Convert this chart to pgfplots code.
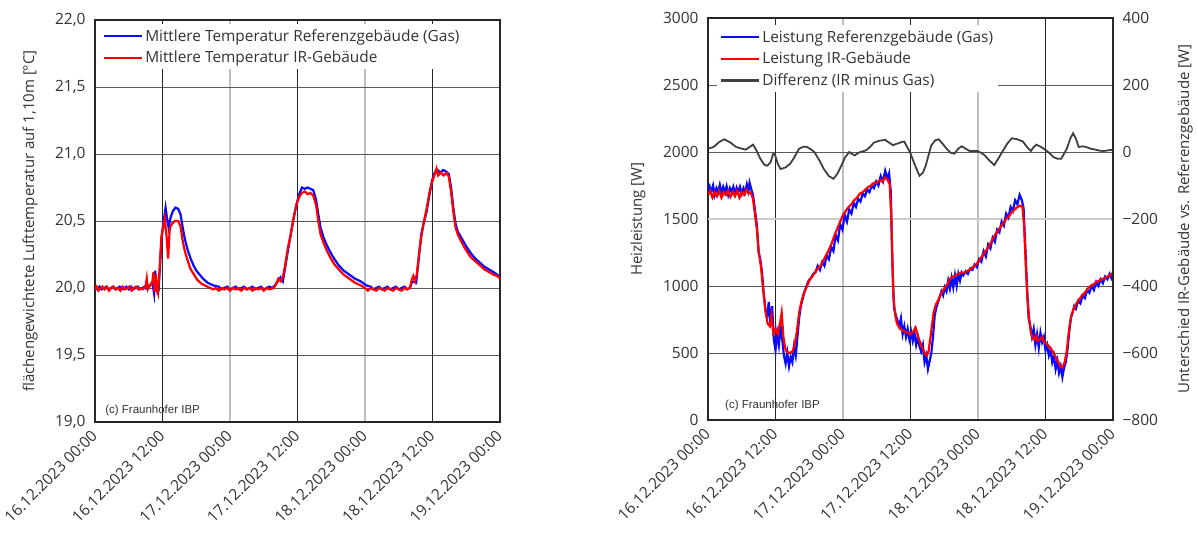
\documentclass[border=0pt]{standalone}
\usepackage{pgfplots}
\usepackage{pgfplotstable}
\pgfplotsset{compat=1.18}
\usepackage{fontspec}
\setmainfont{Open Sans}
\newfontfamily\cfont{Liberation Sans}

\definecolor{cblue}{RGB}{10,10,255}
\definecolor{cred}{RGB}{255,0,0}
\definecolor{cdiff}{RGB}{64,64,64}

\pgfplotstableread{
t T
0 20.00
0.4 19.99
0.8 20.01
1.2 19.99
1.6 20.00
2.0 20.01
2.4 19.99
2.8 20.00
3.2 20.01
3.6 19.99
4.0 20.00
4.4 20.01
4.8 19.99
5.2 20.00
5.6 20.01
6.0 19.99
6.4 20.01
6.8 19.99
7.2 20.00
7.6 20.01
8.0 19.99
8.4 20.00
8.8 20.01
9.0 20.00
9.2 20.05
9.4 20.00
9.8 20.02
10.2 20.04
10.5 19.96
10.7 20.13
10.9 20.02
11.1 19.97
11.3 19.98
11.6 20.20
11.9 20.40
12.2 20.50
12.55 20.60
12.8 20.52
13.1 20.45
13.4 20.52
13.8 20.57
14.3 20.60
14.8 20.59
15.2 20.55
15.6 20.45
16.0 20.36
16.5 20.28
17.0 20.22
17.5 20.17
18.0 20.13
18.6 20.10
19.2 20.07
20.0 20.04
21.0 20.02
22.0 20.01
22.5 19.99
23.0 20.00
23.5 20.01
24.0 19.99
24.5 20.00
25.0 20.01
25.5 19.99
26.0 20.00
26.5 20.01
27.0 19.99
27.5 20.00
28.0 20.01
28.5 19.99
29.0 20.00
29.5 20.01
30.0 19.99
30.5 20.00
31.0 20.01
31.5 20.00
32.0 20.02
32.5 20.05
33.0 20.08
33.4 20.05
33.8 20.15
34.3 20.28
34.8 20.40
35.3 20.52
35.8 20.62
36.3 20.70
36.8 20.75
37.3 20.74
37.8 20.75
38.3 20.74
38.8 20.73
39.3 20.66
39.7 20.55
40.1 20.45
40.6 20.38
41.2 20.32
41.8 20.27
42.5 20.22
43.3 20.17
44.2 20.13
45.2 20.10
46.2 20.07
47.2 20.05
48.2 20.02
49.0 20.01
49.5 19.99
50.0 20.00
50.5 20.01
51.0 19.99
51.5 20.00
52.0 20.01
52.5 19.99
53.0 20.00
53.5 20.01
54.0 19.99
54.5 20.00
55.0 20.01
55.5 19.99
56.0 20.00
56.3 20.04
56.8 20.05
57.1 20.04
57.5 20.20
58.0 20.40
58.4 20.48
58.9 20.56
59.4 20.68
59.9 20.80
60.4 20.86
60.9 20.88
61.4 20.86
61.9 20.88
62.4 20.87
62.9 20.85
63.3 20.75
63.7 20.60
64.1 20.48
64.5 20.42
65.2 20.37
66.0 20.31
66.8 20.26
67.6 20.22
68.4 20.19
69.2 20.16
70.0 20.14
70.8 20.12
71.5 20.10
72.0 20.08
}\tempgas

\pgfplotstableread{
t T
0 19.99
0.3 20.01
0.6 19.98
1.0 20.00
1.3 20.01
1.7 19.99
2.1 20.01
2.5 19.98
2.9 20.00
3.3 20.01
3.7 19.99
4.1 20.00
4.5 19.98
4.9 20.01
5.3 19.99
5.7 20.00
6.1 20.01
6.5 19.98
6.9 20.00
7.3 20.01
7.7 19.99
8.1 20.00
8.5 19.99
9.0 20.01
9.2 20.07
9.4 19.99
9.8 20.02
10.2 20.05
10.4 20.12
10.6 19.97
10.8 20.10
11.0 19.99
11.2 19.96
11.5 20.15
11.8 20.38
12.1 20.45
12.4 20.52
12.7 20.40
13.0 20.22
13.3 20.45
13.7 20.48
14.2 20.50
14.8 20.50
15.2 20.46
15.6 20.35
16.0 20.27
16.5 20.20
17.0 20.14
17.6 20.10
18.2 20.06
19.0 20.03
20.0 20.01
21.0 19.99
21.5 20.00
22.0 19.98
22.5 20.00
23.0 19.99
23.5 20.00
24.0 19.98
24.5 20.00
25.0 19.99
25.5 20.00
26.0 19.98
26.5 20.00
27.0 19.99
27.5 20.00
28.0 19.98
28.5 20.00
29.0 19.99
29.5 20.00
30.0 19.98
30.5 20.00
31.0 19.99
31.8 20.00
32.2 20.03
32.6 20.07
33.0 20.05
33.4 20.08
33.8 20.17
34.3 20.30
34.8 20.40
35.3 20.52
35.8 20.62
36.3 20.68
36.8 20.71
37.3 20.72
37.8 20.70
38.3 20.71
38.8 20.69
39.3 20.62
39.7 20.50
40.1 20.40
40.6 20.34
41.2 20.28
41.8 20.23
42.5 20.18
43.3 20.14
44.2 20.10
45.2 20.07
46.2 20.04
47.2 20.02
48.0 20.00
48.5 19.98
49.0 20.00
49.5 19.99
50.0 19.98
50.5 20.00
51.0 19.99
51.5 19.98
52.0 20.00
52.5 19.99
53.0 19.98
53.5 20.00
54.0 19.99
54.5 19.98
55.0 20.00
55.5 19.99
56.0 20.00
56.3 20.06
56.6 20.09
56.9 20.05
57.2 20.10
57.6 20.25
58.0 20.38
58.5 20.50
59.0 20.60
59.5 20.72
60.0 20.80
60.4 20.85
60.7 20.89
61.0 20.84
61.5 20.86
62.0 20.84
62.5 20.86
62.9 20.83
63.3 20.72
63.7 20.57
64.1 20.45
64.5 20.40
65.2 20.34
66.0 20.28
66.8 20.23
67.6 20.20
68.4 20.17
69.2 20.14
70.0 20.12
70.8 20.10
71.5 20.09
72.0 20.07
}\tempir

\pgfplotstableread{
t P
0 1690
0.3 1740
0.6 1700
0.9 1750
1.2 1680
1.5 1730
1.8 1700
2.1 1755
2.4 1690
2.7 1740
3.0 1700
3.3 1745
3.6 1680
3.9 1730
4.2 1700
4.5 1740
4.8 1690
5.1 1735
5.4 1700
5.7 1740
6.0 1690
6.3 1730
6.6 1700
6.9 1760
7.2 1710
7.4 1770
7.7 1720
8.0 1680
8.4 1550
8.7 1450
9.0 1250
9.3 1200
9.6 1100
9.9 950
10.2 820
10.5 760
10.8 880
11.1 720
11.4 850
11.7 600
12.0 520
12.3 650
12.6 560
12.9 700
13.2 600
13.5 480
13.8 420
14.1 500
14.4 400
14.7 470
15.0 430
15.3 550
15.6 480
15.9 620
16.2 760
16.5 850
16.8 900
17.1 950
17.5 1000
17.9 1040
18.3 1060
18.7 1090
19.1 1100
19.5 1150
19.9 1120
20.3 1180
20.7 1150
21.1 1230
21.5 1200
21.9 1290
22.3 1260
22.7 1380
23.1 1340
23.5 1460
23.9 1420
24.3 1530
24.7 1480
25.1 1570
25.5 1540
25.9 1620
26.3 1590
26.7 1650
27.1 1630
27.5 1690
27.9 1670
28.3 1720
28.7 1700
29.1 1750
29.5 1730
29.9 1780
30.3 1750
30.7 1820
31.1 1780
31.5 1860
31.9 1800
32.2 1840
32.5 1700
32.7 1300
32.9 1000
33.1 830
33.4 780
33.7 740
34.0 700
34.3 760
34.6 640
34.9 700
35.2 620
35.5 680
35.8 600
36.1 660
36.4 590
36.7 650
37.0 560
37.3 620
37.6 550
37.9 510
38.2 560
38.5 430
38.8 480
39.1 380
39.4 440
39.7 500
40.0 620
40.3 780
40.6 840
40.9 880
41.2 920
41.5 960
41.8 930
42.1 990
42.4 960
42.7 1040
43.0 980
43.3 1060
43.6 990
43.9 1080
44.2 1000
44.5 1090
44.8 1040
45.1 1100
45.4 1080
45.8 1110
46.2 1090
46.6 1130
47.0 1120
47.4 1160
47.8 1140
48.2 1200
48.6 1180
49.0 1260
49.4 1220
49.8 1310
50.2 1280
50.6 1360
51.0 1330
51.4 1420
51.8 1400
52.2 1480
52.6 1450
53.0 1540
53.4 1510
53.8 1590
54.2 1560
54.6 1640
55.0 1610
55.4 1680
55.8 1640
56.1 1580
56.4 1300
56.7 1000
57.0 760
57.3 700
57.6 620
57.9 680
58.2 560
58.5 640
58.8 540
59.1 650
59.4 580
59.7 620
60.0 520
60.3 560
60.6 480
60.9 520
61.2 430
61.5 480
61.8 380
62.1 440
62.4 350
62.7 400
63.0 320
63.3 390
63.6 430
63.9 520
64.2 650
64.5 760
64.8 800
65.1 850
65.4 830
65.8 890
66.2 870
66.6 930
67.0 910
67.4 970
67.8 950
68.2 1000
68.6 970
69.0 1030
69.4 1000
69.8 1050
70.2 1020
70.6 1070
71.0 1050
71.4 1090
71.7 1060
72.0 1100
}\powgas

\pgfplotstableread{
t P
0 1680
0.4 1710
0.8 1660
1.2 1700
1.6 1670
2.0 1710
2.4 1660
2.8 1700
3.2 1680
3.6 1710
4.0 1665
4.4 1700
4.8 1670
5.2 1710
5.6 1660
6.0 1700
6.4 1680
6.8 1720
7.2 1690
7.6 1700
8.0 1650
8.4 1520
8.7 1420
9.0 1260
9.4 1150
9.8 980
10.2 820
10.6 720
11.0 700
11.3 780
11.6 650
12.0 680
12.4 640
12.8 720
13.1 800
13.4 620
13.7 540
14.0 510
14.5 500
15.0 510
15.4 560
15.8 660
16.2 800
16.6 880
17.0 940
17.5 990
18.0 1040
18.5 1070
19.0 1100
19.5 1130
20.0 1150
20.5 1190
21.0 1230
21.5 1270
22.0 1320
22.5 1380
23.0 1430
23.5 1480
24.0 1530
24.5 1560
25.0 1590
25.5 1610
26.0 1640
26.5 1660
27.0 1690
27.5 1700
28.0 1720
28.5 1740
29.0 1750
29.5 1770
30.0 1770
30.5 1790
31.0 1780
31.5 1810
32.0 1790
32.3 1760
32.6 1500
32.8 1150
33.0 900
33.3 780
33.6 720
34.0 690
34.5 670
35.0 660
35.5 650
36.0 640
36.5 660
36.9 690
37.3 630
37.7 580
38.1 540
38.5 500
38.9 480
39.2 510
39.5 600
39.8 700
40.1 800
40.5 860
41.0 900
41.5 950
42.0 980
42.5 1010
43.0 1050
43.5 1070
44.0 1080
44.5 1090
45.0 1100
45.5 1100
46.0 1110
46.5 1120
47.0 1140
47.5 1150
48.0 1180
48.5 1210
49.0 1240
49.5 1270
50.0 1300
50.5 1340
51.0 1380
51.5 1410
52.0 1440
52.5 1470
53.0 1500
53.5 1520
54.0 1550
54.5 1570
55.0 1590
55.5 1600
55.9 1590
56.2 1450
56.5 1150
56.8 900
57.1 760
57.4 650
57.7 610
58.0 600
58.3 630
58.6 590
59.0 600
59.4 620
59.8 580
60.2 570
60.6 550
61.0 530
61.4 500
61.8 470
62.2 440
62.6 400
63.0 390
63.4 430
63.8 520
64.2 680
64.6 780
65.0 830
65.5 870
66.0 900
66.5 930
67.0 950
67.5 980
68.0 1000
68.5 1010
69.0 1030
69.5 1040
70.0 1050
70.5 1060
71.0 1070
71.5 1080
72.0 1100
}\powir

\pgfplotstableread{
t D
0 10
1 15
2 30
2.9 38
4 28
5 15
6 10
6.7 7
7.4 15
8.0 22
8.6 5
9.3 -20
10.0 -38
10.5 -41
11.1 -31
11.6 -5
11.9 -8
12.4 -35
12.9 -51
13.8 -46
14.6 -35
15.2 -20
16.2 10
17.0 16
17.6 15
18.3 8
18.9 0
19.8 -25
20.6 -51
21.5 -72
22.3 -80
23.0 -65
23.7 -41
24.4 -15
25.1 0
25.6 -6
26.1 -10
26.6 -4
27.1 0
28.1 5
28.8 15
29.5 28
30.5 34
31.5 36
32.2 28
32.9 20
33.4 24
33.9 26
34.4 30
34.9 31
35.4 15
35.9 0
36.8 -40
37.6 -71
38.2 -62
38.7 -41
39.2 -10
39.7 20
40.4 35
41.0 38
41.7 25
42.4 10
43.1 -2
43.8 -5
44.5 10
45.1 17
45.8 10
46.5 3
47.2 3
47.9 3
48.6 -3
49.2 -10
50.0 -25
50.9 -39
51.6 -20
52.3 0
53.2 25
54.0 41
55.0 38
56.0 31
56.7 15
57.4 3
57.9 15
58.4 22
59.2 15
60.1 5
60.8 -5
61.4 -15
62.1 -20
62.8 -20
63.3 -5
63.8 10
64.4 40
64.9 56
65.4 40
65.9 15
66.6 17
67.2 15
68.0 10
68.9 7
69.6 4
70.3 3
71.2 5
72.0 7
}\powdiff

\pgfplotsset{
  basestyle/.style={
    scale only axis, width=405pt, height=402pt,
    xmin=0, xmax=72,
    major tick length=0pt,
    axis line style={line width=1.6pt, black!85},
    tick label style={font=\fontsize{15.5}{17}\selectfont, text=black!80},
    label style={font=\fontsize{15}{17}\selectfont, text=black!80},
    xtick={0,24,48,72},
    xticklabels={16.12.2023 00:00,17.12.2023 00:00,18.12.2023 00:00,19.12.2023 00:00},
    extra x ticks={12,36,60},
    extra x tick labels={16.12.2023 12:00,17.12.2023 12:00,18.12.2023 12:00},
    extra x tick style={grid=major, major grid style={black!85, line width=0.7pt}, x grid style={black!85, line width=0.7pt}},
    xticklabel style={rotate=45, anchor=east, inner sep=1pt},
    xticklabel shift=10pt,
    yticklabel style={xshift=-6pt},
    xmajorgrids, ymajorgrids,
    x grid style={gray!50, line width=1.3pt},
    y grid style={black!65, line width=0.9pt},
    legend style={draw=none, fill=white, anchor=north west,
      font=\fontsize{15.4}{17}\selectfont, text=black!80,
      cells={anchor=west}, row sep=4.5pt, inner xsep=3pt, inner ysep=3pt},
    legend image code/.code={\draw[#1] (0pt,0pt) -- (38pt,0pt);},
  }
}

\begin{document}
\begin{tikzpicture}
\useasboundingbox (0,0) rectangle (1197pt,539pt);

% ---------- left chart ----------
\begin{axis}[basestyle,
  at={(95pt,117pt)}, anchor=south west,
  ymin=19, ymax=22,
  ytick={19,19.5,20,20.5,21,21.5,22},
  yticklabels={{19,0},{19,5},{20,0},{20,5},{21,0},{21,5},{22,0}},
  ylabel={flächengewichtete Lufttemperatur auf 1,10m [°C]},
  ylabel style={at={(axis description cs:-0.16,0.5)}, anchor=center},
  legend style={at={(0.012,0.99)}},
]
\addplot[cblue, line width=2.2pt] table[x=t, y=T] {\tempgas};
\addlegendentry{Mittlere Temperatur Referenzgebäude (Gas)}
\addplot[cred, line width=2.2pt] table[x=t, y=T] {\tempir};
\addlegendentry{Mittlere Temperatur IR-Gebäude}
\node[anchor=south west, font=\cfont\fontsize{11.5}{12}\selectfont, text=black!80, inner sep=0pt]
  at (rel axis cs:0.025,0.015) {(c) Fraunhofer IBP};
\end{axis}

% ---------- right chart ----------
\begin{axis}[basestyle,
  at={(708pt,119pt)}, anchor=south west,
  ymin=0, ymax=3000,
  ytick={0,500,1000,2000,2500,3000},
  yticklabels={0,500,1000,2000,2500,3000},
  extra y ticks={1500},
  extra y tick labels={1500},
  extra y tick style={grid=major, major grid style={gray!40, line width=1.3pt}, y grid style={gray!40, line width=1.3pt}},
  ylabel={Heizleistung [W]},
  ylabel style={at={(axis description cs:-0.173,0.5)}, anchor=center},
]
\addplot[cblue, line width=2.2pt] table[x=t, y=P] {\powgas};
\addplot[cred, line width=2.2pt] table[x=t, y=P] {\powir};
\node[anchor=south west, font=\cfont\fontsize{11.5}{12}\selectfont, text=black!80, inner sep=0pt]
  at (rel axis cs:0.042,0.022) {(c) Fraunhofer IBP};
\end{axis}

\begin{axis}[
  scale only axis, width=405pt, height=402pt,
  at={(708pt,119pt)}, anchor=south west,
  xmin=0, xmax=72, ymin=-800, ymax=400,
  hide x axis, axis y line*=right,
  axis line style={line width=1.6pt, black!85},
  major tick length=0pt,
  ytick={-800,-600,-400,-200,0,200,400},
  yticklabels={−800,−600,−400,−200,0,200,400},
  yticklabel style={xshift=6pt, anchor=west},
  tick label style={font=\fontsize{15.5}{17}\selectfont, text=black!80},
  ylabel={Unterschied IR-Gebäude vs. Referenzgebäude [W]},
  ylabel style={font=\fontsize{15}{17}\selectfont, text=black!80, at={(axis description cs:1.178,0.5)}, anchor=center, rotate=0},
  legend style={draw=none, fill=white, anchor=north west, at={(0.022,0.982)},
    font=\fontsize{15.4}{17}\selectfont, text=black!80,
    cells={anchor=west}, row sep=4.5pt, inner xsep=3pt, inner ysep=3pt},
  legend image code/.code={\draw[#1] (0pt,0pt) -- (38pt,0pt);},
]
\addlegendimage{cblue, line width=2.2pt}
\addlegendentry{Leistung Referenzgebäude (Gas)}
\addlegendimage{cred, line width=2.2pt}
\addlegendentry{Leistung IR-Gebäude}
\addlegendimage{cdiff, line width=2.2pt}
\addlegendentry{Differenz (IR minus Gas)}
\addplot[cdiff, line width=1.8pt, forget plot] table[x=t, y=D] {\powdiff};
\end{axis}
\end{tikzpicture}
\end{document}
